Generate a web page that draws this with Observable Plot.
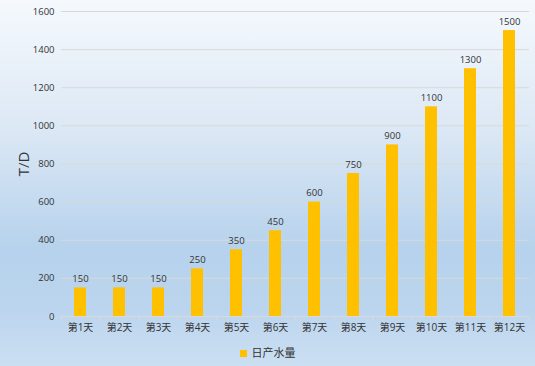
<!DOCTYPE html>
<html>
<head>
<meta charset="utf-8">
<script src="https://cdn.jsdelivr.net/npm/d3@7"></script>
<script src="https://cdn.jsdelivr.net/npm/@observablehq/plot@0.6"></script>
<style>
  html, body { margin: 0; padding: 0; }
  #wrap {
    width: 535px; height: 366px; overflow: hidden; position: relative;
    background: linear-gradient(to bottom, #f5f9fd 0%, #dce8f5 35%, #b6d2ec 68%, #bcd5ee 85%, #cbdff2 100%);
    font-family: "Open Sans", "Noto Sans CJK SC", sans-serif;
  }
  #legend {
    position: absolute; left: 0; width: 535px; top: 344px; text-align: center;
    font-size: 11px; color: #333333; line-height: 18px;
  }
  #legend .sw { display: inline-block; width: 7px; height: 7px; background: #FFC000; margin-right: 5px; vertical-align: 0px; }
</style>
</head>
<body>
<div id="wrap"><div id="chart"></div><div id="legend"></div></div>
<script>
const categories = ["第1天","第2天","第3天","第4天","第5天","第6天","第7天","第8天","第9天","第10天","第11天","第12天"];
const values = [150,150,150,250,350,450,600,750,900,1100,1300,1500];
const yTicks = [0,200,400,600,800,1000,1200,1400,1600];
const seriesName = "日产水量";
const yLabel = "T/D";

const data = categories.map((c, i) => ({day: c, value: values[i]}));

const W = 535, H = 338, mL = 61, mR = 6, mT = 11, mB = 22;
const step = (W - mL - mR) / categories.length;
const font = "'Open Sans', 'Noto Sans CJK SC', sans-serif";

const chart = Plot.plot({
  width: W, height: H,
  marginLeft: mL, marginRight: mR, marginTop: mT, marginBottom: mB,
  style: {background: "transparent", fontFamily: font, color: "#333333"},
  x: {domain: categories, paddingInner: 0.68, paddingOuter: 0.34},
  y: {domain: [0, 1600]},
  marks: [
    Plot.gridY(yTicks, {stroke: "#d9d9d9", strokeOpacity: 1}),
    Plot.axisY(yTicks, {tickSize: 0, tickPadding: 7, fontSize: 9.5, tickFormat: d3.format("d"), label: null}),
    Plot.axisY({ticks: [], label: yLabel, labelAnchor: "center", labelArrow: "none", labelOffset: 43, fontSize: 15}),
    Plot.barY(data, {x: "day", y: "value", fill: "#FFC000"}),
    Plot.ruleY([0], {stroke: "#d9d9d9"}),
    Plot.axisX({tickSize: 0, tickPadding: 7, fontSize: 10, label: null}),
    Plot.axisX({tickSize: 4, stroke: "#d9d9d9", tickFormat: () => "", dx: -step / 2, label: null}),
    Plot.axisX([categories[categories.length - 1]], {tickSize: 4, stroke: "#d9d9d9", tickFormat: () => "", dx: step / 2, label: null}),
    Plot.text(data, {x: "day", y: "value", text: d => String(d.value), dy: -6, lineAnchor: "bottom", fontSize: 9.5, fill: "#333333"})
  ]
});
document.getElementById("chart").appendChild(chart);
document.getElementById("legend").innerHTML = `<span class="sw"></span>${seriesName}`;
</script>
</body>
</html>
